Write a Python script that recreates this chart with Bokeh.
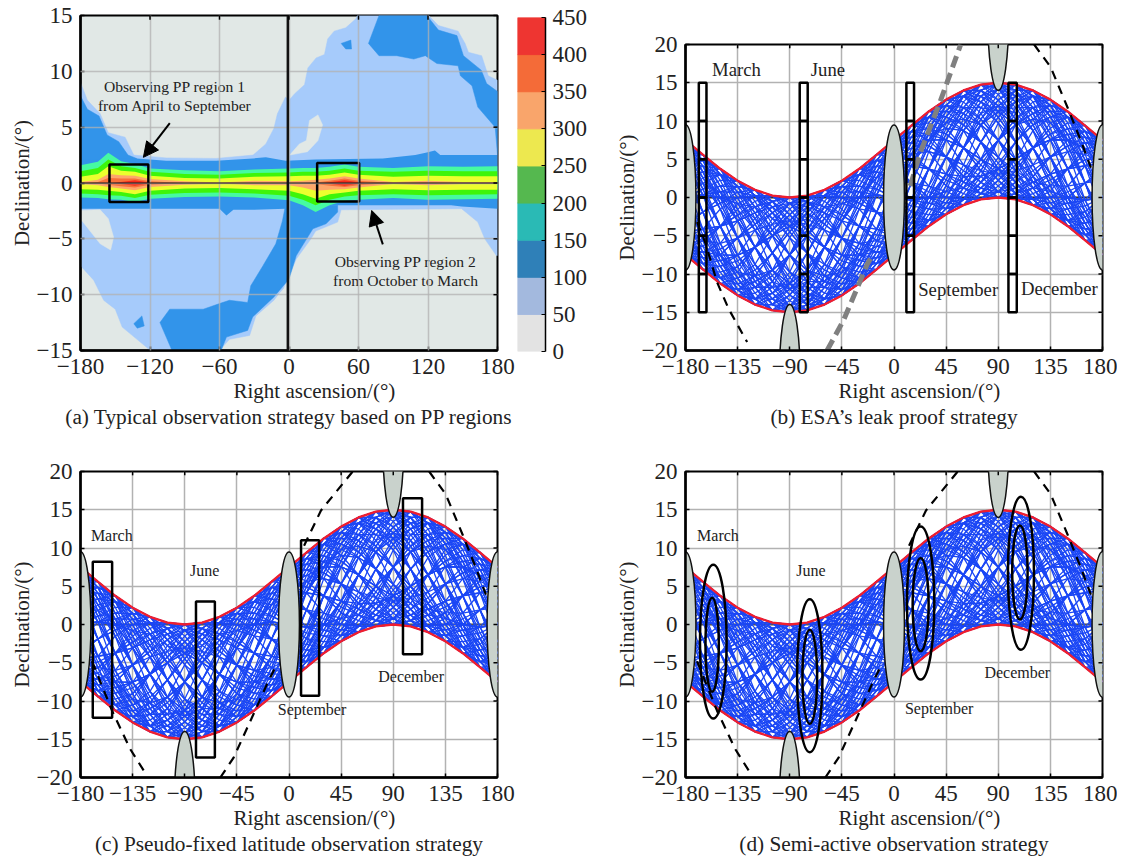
from bokeh.embed import file_html
from bokeh.resources import INLINE
from bokeh.plotting import figure
from bokeh.layouts import column, row
from bokeh.core.properties import value
from bokeh.models import (Range1d, FixedTicker, Title, Arrow, NormalHead,
                          ColumnDataSource, Span, Spacer)

FONT = "Liberation Serif"

# ---- panel (a): contour regions, (RA, Dec) pairs
outer_50 = [(-180,9),(-174,7.4),(-163,6.2),(-156,4.5),(-141.5,4.1),(-134,2.5),(-106,2.25),(-63,2.2),(-31,2.5),(-20,3.5),(-13,4.9),(-10,6.2),(-3,7.7),(0,7.4),(4.9,8),(13.4,8.8),(16.3,10.3),(23.4,11.2),(30.6,11.5),(33.4,12.9),(39,13.6),(49,13.9),(57.7,14.7),(59,15),(120.6,15),(129,14.1),(146,13.6),(152,12.5),(154.9,11.7),(166.3,11.4),(172,9.6),(180,9.2),(180,-6.5),(179,-6.5),(169,-5),(163,-3.5),(149,-2.3),(45,-2.4),(42,-3.5),(23,-4.3),(19,-5),(6.3,-6.8),(-5,-9.5),(-8,-9.8),(-13,-10.5),(-28.6,-11.9),(-34,-13.65),(-51.4,-14),(-60,-15),(-120,-15),(-121.4,-14.85),(-144,-12.9),(-150,-11.3),(-160,-10.5),(-168.6,-8.7),(-180,-7.4)]
hole_lower_left = [(-180,-2.46),(-163,-2.4),(-156,-3.2),(-151.4,-4.85),(-154,-6),(-163,-5.45),(-178.6,-3.4),(-180,-3.4)]
hole_upper_mid = [(0.6,2.5),(9,3.5),(15,3.8),(17.7,5.6),(25,6.1),(29,5.2),(25,3.8),(16,2.8)]
blue_upper_left = [(-180,7.8),(-174,6.6),(-164,6),(-157,4.3),(-147,3.7),(-139,2.5),(-131.5,2.2),(-131.5,0),(-180,0)]
blue_upper_right = [(77.7,15),(68.6,12.5),(77.7,11.4),(93,11.4),(107.7,11.1),(117.7,11.4),(127.7,10.7),(146,10.5),(148,9.6),(158,8.7),(163,6.8),(178,5),(180,2.5),(180,8.2),(170.6,8.9),(166,10.1),(150.6,11.4),(145,13.2),(129,13.7),(119,15)]
blue_lower = [(-101,-15),(-111.4,-12.5),(-103,-11.3),(-74,-11.3),(-60,-10.8),(-51.4,-10.5),(-35.7,-10.7),(-33,-9.2),(-23,-7.5),(-11.4,-5.45),(-5.7,-3.4),(-3,-2),(42,-2),(42,-2.6),(32,-3.65),(20.6,-4.1),(6.3,-6.5),(0,-8.6),(-13,-10.2),(-31.4,-12),(-35.7,-13.2),(-54,-13.8),(-58.6,-15)]
islet_upper = [(45,12.5),(53.4,12.8),(54,12),(49,12)]
islet_lower = [(-134,-12.6),(-127,-11.9),(-125,-12.8),(-131,-13)]

ra_100 = [-180,-131.5,-106,-63,-31,-20,-3,23,81,109,118,126,130.6,180]
upper_100 = [2.1,2.2,2,2,2.2,2.3,2,2.1,2.2,2.5,2.7,2.9,2.5,2.5]
ra_100_low = [-180,-120,-60,-54,-48,-30,-3,40,140,149,180]
lower_100 = [-2.3,-2.3,-2.3,-2.9,-2.4,-2.4,-2.3,-2,-2,-2.1,-2.3]

ra_band = [-180,-165,-156,-145,-133,-120,-90,-60,-30,0,12,23,35,48,60,90,120,150,180]
upper_150 = [1.6,1.9,2.7,1.95,1.7,1.3,1.15,1.05,1.2,1.3,1.35,1.35,1.45,1.65,1.45,1.35,1.5,1.45,1.5]
upper_200 = [1.05,1.35,2.1,1.5,1.35,1,.8,.75,.9,.95,1,1,1.1,1.3,1.1,1,1.1,1.05,1.05]
upper_250 = [.55,.8,1.5,1.1,1,.65,.45,.4,.55,.6,.65,.65,.75,.95,.75,.55,.65,.6,.6]
upper_300 = [.1,.3,.8,.7,.65,.35,.15,.05,.2,.15,.2,.3,.4,.6,.4,.1,.2,.1,.1]
upper_350 = [0,.1,.45,.4,.4,.15,0,0,0,0,0,.05,.2,.4,.2,0,.05,0,0]
lower_150 = [-1.3,-1.35,-1.45,-1.5,-1.7,-1.4,-1.25,-1.2,-1.3,-1.55,-2,-2.6,-2,-1.6,-1.5,-1.35,-1.5,-1.45,-1.4]
lower_200 = [-.95,-1,-1.1,-1.15,-1.35,-1.05,-.9,-.85,-.95,-1.15,-1.5,-2,-1.5,-1.2,-1.1,-1,-1.1,-1.05,-1]
lower_250 = [-.55,-.6,-.7,-.8,-1,-.7,-.5,-.45,-.55,-.7,-1,-1.4,-1,-.85,-.7,-.55,-.65,-.6,-.6]
lower_300 = [-.1,-.2,-.35,-.5,-.65,-.35,-.15,-.05,-.2,-.2,-.4,-.7,-.6,-.55,-.4,-.1,-.2,-.1,-.1]
lower_350 = [0,-.05,-.15,-.3,-.4,-.15,0,0,0,0,0,-.1,-.25,-.35,-.2,0,-.05,0,0]
ra_red_1 = [-152,-133,-118]
red_1_up = [0,.25,0]
red_1_low = [0,-.25,0]
ra_red_2 = [30,48,65]
red_2_up = [0,.25,0]
red_2_low = [0,-.25,0]
pp_left = [-155,24.3]
pp_right = [-121.4,60.6]
pp_top = [1.65,1.8]
pp_bottom = [-1.7,-1.65]
arrow_x0, arrow_y0, arrow_x1, arrow_y1 = [-102.9,81], [5.36,-5.5], [-125.7,71.4], [2.3,-2.46]
note_x = [-98.6,-98.6,100.6,100.6]
note_y = [8.64,6.94,-7,-8.7]
note_text = ["Observing PP region 1","from April to September","Observing PP region 2","from October to March"]

cbar_levels = [0,50,100,150,200,250,300,350,400,450]
cbar_colors = ["#E3E3E3","#A3B9DE","#2F80B8","#2ABAB5","#55B84F","#EDE84F","#F9A56B","#F46B38","#EE3531"]

# ---- panels (b)-(d): envelope
ra_env = list(range(-180,181,15))
env_upper = [7.5,5.6,3.75,2.2,1,.25,0,.25,1,2.2,3.75,5.6,7.5,9.4,11.25,12.8,14,14.75,15,14.75,14,12.8,11.25,9.4,7.5]
env_lower = [-7.5,-9.4,-11.25,-12.8,-14,-14.75,-15,-14.75,-14,-12.8,-11.25,-9.4,-7.5,-5.6,-3.75,-2.2,-1,-.25,0,-.25,-1,-2.2,-3.75,-5.6,-7.5]

# Blue curves: eye estimates of the hatch texture, not traced one by one. Each letter gives
# a curve's height between the lower (a) and upper (u) red curve at one entry of ra_env.
band_position_rows = """
kptutpkfbabfkptutpkfbabfk ptutpkfbabfkptutpkfbabfkp tutpkfbabfkptutpkfbabfkpt utpkfbabfkptutpkfbabfkptu
tpkfbabfkptutpkfbabfkptut pkfbabfkptutpkfbabfkptutp kfbabfkptutpkfbabfkptutpk fbabfkptutpkfbabfkptutpkf
babfkptutpkfbabfkptutpkfb abfkptutpkfbabfkptutpkfba bfkptutpkfbabfkptutpkfbab fkptutpkfbabfkptutpkfbabf
nruurnhdaadhnruurnhdaadhn ruurnhdaadhnruurnhdaadhnr uurnhdaadhnruurnhdaadhnru urnhdaadhnruurnhdaadhnruu
rnhdaadhnruurnhdaadhnruur nhdaadhnruurnhdaadhnruurn hdaadhnruurnhdaadhnruurnh daadhnruurnhdaadhnruurnhd
aadhnruurnhdaadhnruurnhda adhnruurnhdaadhnruurnhdaa dhnruurnhdaadhnruurnhdaad hnruurnhdaadhnruurnhdaadh
kortutrokgdbabdgkortutrok ortutrokgdbabdgkortutrokg rtutrokgdbabdgkortutrokgd tutrokgdbabdgkortutrokgdb
utrokgdbabdgkortutrokgdba trokgdbabdgkortutrokgdbab rokgdbabdgkortutrokgdbabd okgdbabdgkortutrokgdbabdg
kgdbabdgkortutrokgdbabdgk gdbabdgkortutrokgdbabdgko dbabdgkortutrokgdbabdgkor babdgkortutrokgdbabdgkort
abdgkortutrokgdbabdgkortu bdgkortutrokgdbabdgkortut dgkortutrokgdbabdgkortutr gkortutrokgdbabdgkortutro
kosuusokfcaacfkosuusokfca osuusokfcaacfkosuusokfcaa suusokfcaacfkosuusokfcaac uusokfcaacfkosuusokfcaacf
usokfcaacfkosuusokfcaacfk sokfcaacfkosuusokfcaacfko okfcaacfkosuusokfcaacfkos kfcaacfkosuusokfcaacfkosu
fcaacfkosuusokfcaacfkosuu caacfkosuusokfcaacfkosuus aacfkosuusokfcaacfkosuuso acfkosuusokfcaacfkosuusok
cfkosuusokfcaacfkosuusokf fkosuusokfcaacfkosuusokfc
knqstutsqnkhecbabcehknqst qstutsqnkhecbabcehknqstut tutsqnkhecbabcehknqstutsq tsqnkhecbabcehknqstutsqnk
qnkhecbabcehknqstutsqnkhe khecbabcehknqstutsqnkhecb ecbabcehknqstutsqnkhecbab babcehknqstutsqnkhecbabce
bcehknqstutsqnkhecbabcehk ehknqstutsqnkhecbabcehknq
kqttqkebbekqttqkebbekqttq ttqkebbekqttqkebbekqttqke qkebbekqttqkebbekqttqkebb ebbekqttqkebbekqttqkebbek
bekqttqkebbekqttqkebbekqt
knprtuuutrpnkhfdbaaabdfhk tuuutrpnkhfdbaaabdfhknprt trpnkhfdbaaabdfhknprtuuut khfdbaaabdfhknprtuuutrpnk
baaabdfhknprtuuutrpnkhfdb bdfhknprtuuutrpnkhfdbaaab
knqtuutqnkhebaabehknqtuut qtuutqnkhebaabehknqtuutqn uutqnkhebaabehknqtuutqnkh tqnkhebaabehknqtuutqnkheb
nkhebaabehknqtuutqnkhebaa hebaabehknqtuutqnkhebaabe baabehknqtuutqnkhebaabehk abehknqtuutqnkhebaabehknq
ehknqtuutqnkhebaabehknqtu
knpqpnkhfefhknpqpnkhfefhk npqpnkhfefhknpqpnkhfefhkn qpnkhfefhknpqpnkhfefhknpq pnkhfefhknpqpnkhfefhknpqp
khfefhknpqpnkhfefhknpqpnk efhknpqpnkhfefhknpqpnkhfe
knpqrqpnkhfedefhknpqrqpnk rqpnkhfedefhknpqrqpnkhfed khfedefhknpqrqpnkhfedefhk defhknpqrqpnkhfedefhknpqr
""".split()

moon_x = [-180,180,0,-90,90]
moon_y = [0,0,0,-23.5,23.5]
moon_w = [18,18,18,18,18]
moon_h = [19,19,19,19,19]

dash_1_x, dash_1_y = [-170,-162.7,-152.7,-142.6,-126.8], [-3.2,-6,-11.1,-14.6,-18.9]
dash_2_x, dash_2_y = [121,135.4,150,161.4,170], [20,17,11.7,7.4,3.9]
gray_1_x, gray_1_y = [-57.8,-43.4,-23,-20.4], [-20,-16,-8.7,-8]
gray_2_x, gray_2_y = [14,17,23,40,57.6], [1.5,3,6,12.6,20]
dash_3_x, dash_3_y = [-59.3,-47.8,-30.6,-19,-10.5], [-20,-17.4,-11.7,-7.8,-5.2]
dash_4_x, dash_4_y = [13,27.6,55], [10.3,14.9,20]
dash_5_x, dash_5_y = [-170,-152.7,-137,-125.4], [-4.8,-11.3,-16.3,-19.1]

b_left = [-168.5,-81.4,10.7,98.8]
b_right = [-161.9,-74.5,17.3,106]
cell_edges = [-15,-10,-5,0,5,10,15]
b_label_x = [-136,-57,55.4,142.7]
b_label_y = [16.75,16.75,-12,-11.9]
month_names = ["March","June","September","December"]

c_left = [-169.4,-80.3,10.4,98.4]
c_right = [-152.7,-64,26,114.9]
c_top = [8.2,3,11,16.5]
c_bottom = [-12.2,-17.4,-9.3,-3.9]
c_label_x = [-153,-72.8,19.9,105.4]
c_label_y = [11.6,7,-11.1,-6.8]

d_x = [-156,-72.7,23,109.6,-157,-72.7,23,108.7]
d_y = [-2.25,-6.7,2.8,6.7,-2.65,-6.85,2.6,6.8]
d_w = [23,21.9,23.6,22.5,11.5,12.7,13.8,13.3]
d_h = [20.1,20,20,20,12.3,12.3,12.2,12.3]
d_label_x = [-152,-71.8,39,106.4]
d_label_y = [11.6,7,-11,-6.3]

ticks_60 = [-180,-120,-60,0,60,120,180]
ticks_45 = [-180,-135,-90,-45,0,45,90,135,180]
ticks_dec_15 = [-15,-10,-5,0,5,10,15]
ticks_dec_20 = [-20,-15,-10,-5,0,5,10,15,20]
x_title = "Right ascension/(\u00b0)"
captions = ["(a) Typical observation strategy based on PP regions","(b) ESA\u2019s leak proof strategy",
            "(c) Pseudo-fixed latitude observation strategy","(d) Semi-active observation strategy"]

TICK = "23px"
LABEL = "21px"
CAP = "21.3px"
TXT = "#222222"

def minus(t):
    return {v: str(v).replace("-", "\u2212") for v in t}

def panel(xt, yt, ymax, caption, fh, left, top, bottom, right, grid_top=False):
    p = figure(frame_width=417, frame_height=fh, x_range=Range1d(-180,180), y_range=Range1d(-ymax,ymax),
               output_backend="svg", toolbar_location=None, min_border_left=left, min_border_top=top,
               min_border_bottom=bottom, min_border_right=right,
               background_fill_color="white", outline_line_color="black", outline_line_width=2)
    for ax, t in ((p.xaxis[0], xt), (p.yaxis[0], yt)):
        ax.ticker = FixedTicker(ticks=t)
        ax.major_label_overrides = minus(t)
        ax.major_label_text_font = FONT
        ax.major_label_text_font_size = TICK
        ax.major_label_text_color = TXT
        ax.major_tick_in = 4
        ax.major_tick_out = 0
        ax.minor_tick_line_color = None
        ax.axis_line_width = 2.5
        ax.axis_line_color = "black"
        ax.major_tick_line_color = "black"
        ax.major_tick_line_width = 1.5
        ax.major_label_standoff = 8
    p.xaxis[0].major_label_standoff = 8
    y = p.yaxis[0]
    y.axis_label = "Declination/(\u00b0)"
    y.axis_label_text_font = FONT
    y.axis_label_text_font_size = LABEL
    y.axis_label_text_font_style = "normal"
    y.axis_label_text_color = TXT
    y.axis_label_standoff = 0
    for g, t in ((p.xgrid[0], xt), (p.ygrid[0], yt)):
        g.ticker = FixedTicker(ticks=t)
        g.grid_line_color = "#B2B2B2"
        g.grid_line_width = 1.5
        if grid_top:
            g.level = "guide"
            g.grid_line_alpha = 0.75
    # tick marks on the top and right edges of the frame
    p.segment(xt, [ymax]*len(xt), xt, [ymax - ymax/40]*len(xt), line_color="black", line_width=1.5, level="overlay")
    p.segment([180]*len(yt), yt, [176.5]*len(yt), yt, line_color="black", line_width=1.5, level="overlay")
    p.add_layout(Title(text=x_title, align="left", offset=153, text_font=FONT, text_font_size=LABEL,
                       text_font_style="normal", text_color=TXT, standoff=0), "below")
    p.add_layout(Title(text=caption, align="center", text_font=FONT, text_font_size=CAP,
                       text_font_style="normal", text_color=TXT, standoff=1), "below")
    return p

def labels(p, x, y, t, size):
    p.text(x, y, text=t, text_font=value(FONT), text_font_size=size, text_align="center",
           text_baseline="middle", text_color=TXT)

def poly(p, pts, color):
    p.patch([q[0] for q in pts], [q[1] for q in pts], fill_color=color, line_color=color, line_width=0.5)

def orbit_panel(p, zero_color):
    p.add_layout(Span(location=0, dimension="width", line_color=zero_color, line_width=2, level="underlay"))
    ys = [[l + (ord(c) - 97) / 20 * (u - l) for c, l, u in zip(r, env_lower, env_upper)] for r in band_position_rows]
    xs = [ra_env[:len(y)] for y in ys]
    p.multi_line(xs, ys, line_color="#1A46F5", line_width=1.3)
    p.line(ra_env, env_upper, line_color="#F01E2E", line_width=2.3)
    p.line(ra_env, env_lower, line_color="#F01E2E", line_width=2.3)

def moons(p):
    p.ellipse(moon_x, moon_y, width=moon_w, height=moon_h, fill_color="#C9D2CC", line_color="#111111", line_width=1.5)

def dash(p, x, y):
    p.line(x, y, line_color="black", line_width=2.2, line_dash="9 7")

# ---- (a)
pa = panel(ticks_60, ticks_dec_15, 15, captions[0], 335, 80, 15, 90, 20, grid_top=True)
pa.background_fill_color = "#E1E8E6"
poly(pa, outer_50, "#A6CBFB")
poly(pa, hole_lower_left, "#E1E8E6")
poly(pa, hole_upper_mid, "#E1E8E6")
for reg in (blue_upper_left, blue_upper_right, blue_lower, islet_upper, islet_lower):
    poly(pa, reg, "#3294EA")
pa.varea(ra_100, upper_100, [-0.5] * len(ra_100), fill_color="#3294EA")
pa.varea(ra_100_low, [0.5] * len(ra_100_low), lower_100, fill_color="#3294EA")
pa.varea(ra_band, upper_150, lower_150, fill_color="#46FAA2")
pa.varea(ra_band, upper_200, lower_200, fill_color="#3EF50A")
pa.varea(ra_band, upper_250, lower_250, fill_color="#ECFF2E")
pa.varea(ra_band, upper_300, lower_300, fill_color="#FFA76A")
pa.varea(ra_band, upper_350, lower_350, fill_color="#F8703A")
pa.varea(ra_red_1, red_1_up, red_1_low, fill_color="#F52A1A")
pa.varea(ra_red_2, red_2_up, red_2_low, fill_color="#F52A1A")
pa.add_layout(Span(location=0, dimension="width", line_color="#111111", line_width=1.2))
pa.add_layout(Span(location=-1, dimension="height", line_color="#111111", line_width=2.5))
pa.quad(left=pp_left, right=pp_right, top=pp_top, bottom=pp_bottom, fill_color=None, line_color="black", line_width=2.5)
pa.add_layout(Arrow(end=NormalHead(size=15, fill_color="black", line_color="black"), line_width=2,
                    source=ColumnDataSource(dict(x0=arrow_x0, y0=arrow_y0, x1=arrow_x1, y1=arrow_y1)),
                    x_start="x0", y_start="y0", x_end="x1", y_end="y1"))
labels(pa, note_x, note_y, note_text, "15.6px")

# ---- colour bar
pcb = figure(frame_width=28, frame_height=334, x_range=Range1d(0,1), y_range=Range1d(0,450), output_backend="svg",
             toolbar_location=None, min_border_left=0, min_border_top=15, min_border_bottom=20, min_border_right=50,
             outline_line_color=None, x_axis_location=None, y_axis_location="right")
pcb.grid.visible = False
pcb.quad(left=[0]*9, right=[1]*9, bottom=cbar_levels[:-1], top=cbar_levels[1:], fill_color=cbar_colors, line_color=cbar_colors)
ax = pcb.yaxis[0]
ax.ticker = FixedTicker(ticks=cbar_levels)
ax.major_label_text_font = FONT
ax.major_label_text_font_size = TICK
ax.major_label_text_color = TXT
ax.major_tick_in = 4
ax.major_tick_out = 0
ax.minor_tick_line_color = None
ax.axis_line_color = "black"
ax.axis_line_width = 1.5
ax.major_label_standoff = 7

# ---- (b)
pb = panel(ticks_45, ticks_dec_20, 20, captions[1], 306, 90, 15, 90, 15)
orbit_panel(pb, "#333333")
pb.line(gray_1_x, gray_1_y, line_color="#808080", line_width=5, line_dash="12 6")
moons(pb)
pb.line(gray_2_x, gray_2_y, line_color="#808080", line_width=5, line_dash="12 6")
dash(pb, dash_1_x, dash_1_y)
dash(pb, dash_2_x, dash_2_y)
for l, r in zip(b_left, b_right):
    pb.quad(left=[l]*6, right=[r]*6, bottom=cell_edges[:-1], top=cell_edges[1:], fill_color=None,
            line_color="black", line_width=2.5)
labels(pb, b_label_x, b_label_y, month_names, "18.7px")

# ---- (c)
pc = panel(ticks_45, ticks_dec_20, 20, captions[2], 306, 80, 31, 80, 90)
orbit_panel(pc, "#555555")
moons(pc)
dash(pc, dash_5_x, dash_5_y)
dash(pc, dash_3_x, dash_3_y)
dash(pc, dash_4_x, dash_4_y)
dash(pc, dash_2_x, dash_2_y)
pc.quad(left=c_left, right=c_right, top=c_top, bottom=c_bottom, fill_color=None, line_color="black", line_width=2.5)
labels(pc, c_label_x, c_label_y, month_names, "16px")

# ---- (d)
pd_ = panel(ticks_45, ticks_dec_20, 20, captions[3], 306, 98, 31, 80, 15)
orbit_panel(pd_, "#555555")
moons(pd_)
dash(pd_, dash_5_x, dash_5_y)
dash(pd_, dash_3_x, dash_3_y)
dash(pd_, dash_4_x, dash_4_y)
dash(pd_, dash_2_x, dash_2_y)
pd_.ellipse(d_x, d_y, width=d_w, height=d_h, fill_color=None, line_color="black", line_width=2.5)
labels(pd_, d_label_x, d_label_y, month_names, "16px")

top_row = row(pa, column(Spacer(height=2, width=78), pcb, spacing=0), column(Spacer(height=29, width=522), pb, spacing=0), spacing=0)
layout = column(top_row, row(pc, pd_, spacing=0), spacing=0)
open("out.html", "w").write(file_html(layout, INLINE))
